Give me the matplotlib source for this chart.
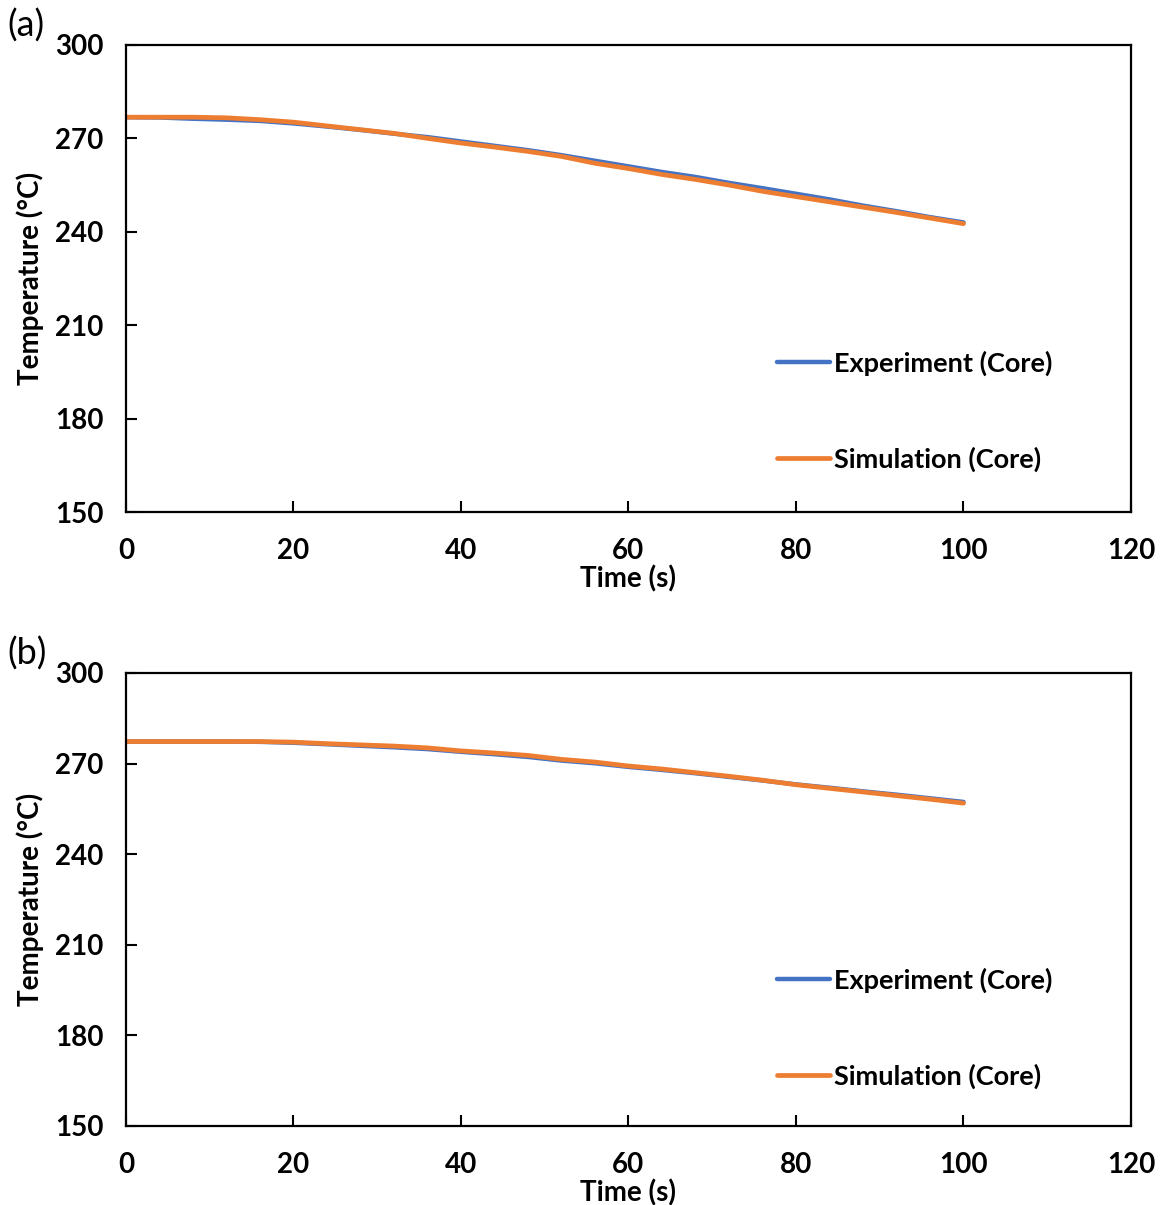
import matplotlib
matplotlib.use('Agg')
import matplotlib.pyplot as plt

plt.rcParams['font.family'] = ['Lato', 'DejaVu Sans']

# time points (s)
time_s = [0, 4, 8, 12, 16, 20, 24, 28, 32, 36, 40, 44, 48, 52, 56, 60,
          64, 68, 72, 76, 80, 84, 88, 92, 96, 100]

# panel (a)
exp_a = [276.8, 276.7, 276.3, 276.0, 275.6, 274.8, 273.8, 272.7, 271.5, 270.4,
         269.0, 267.6, 266.2, 264.6, 262.8, 261.0, 259.2, 257.6, 255.7, 254.0,
         252.2, 250.4, 248.4, 246.6, 244.7, 243.0]
sim_a = [276.8, 276.8, 276.8, 276.6, 276.0, 275.2, 274.0, 272.8, 271.6, 270.0,
         268.5, 267.2, 265.8, 264.2, 262.0, 260.3, 258.4, 256.8, 255.0, 253.0,
         251.3, 249.6, 247.9, 246.2, 244.4, 242.6]

# panel (b)
exp_b = [277.3, 277.3, 277.3, 277.3, 277.2, 276.9, 276.4, 275.9, 275.4, 274.8,
         273.9, 273.1, 272.2, 271.0, 270.1, 268.9, 267.9, 266.8, 265.6, 264.4,
         263.1, 262.0, 260.8, 259.7, 258.5, 257.3]
sim_b = [277.3, 277.3, 277.3, 277.3, 277.3, 277.1, 276.6, 276.2, 275.8, 275.2,
         274.2, 273.5, 272.7, 271.4, 270.5, 269.2, 268.2, 267.0, 265.8, 264.5,
         263.0, 261.8, 260.6, 259.4, 258.2, 256.9]

xticks = [0, 20, 40, 60, 80, 100, 120]
yticks = [150, 180, 210, 240, 270, 300]

fig = plt.figure(figsize=(11.6, 12.05), dpi=100)
ax_a = fig.add_axes([0.1086, 0.5751, 0.8664, 0.3876])
ax_b = fig.add_axes([0.1086, 0.0656, 0.8664, 0.3759])

panels = [(ax_a, exp_a, sim_a, '(a)', 0.979), (ax_b, exp_b, sim_b, '(b)', 0.458)]
for ax, exp, sim, tag, ty in panels:
    ax.plot(time_s, exp, color='#4472C4', lw=3.2, label='Experiment (Core)',
            solid_capstyle='round')
    ax.plot(time_s, sim, color='#ED7D31', lw=3.4, label='Simulation (Core)',
            solid_capstyle='round')
    ax.set_xlim(0, 120)
    ax.set_ylim(150, 300)
    ax.set_xticks(xticks)
    ax.set_yticks(yticks)
    ax.tick_params(direction='in', length=8, width=1.5, labelsize=20)
    ax.tick_params(axis='x', pad=19)
    ax.tick_params(axis='y', pad=16)
    for lab in ax.get_xticklabels() + ax.get_yticklabels():
        lab.set_fontweight('bold')
    for sp in ax.spines.values():
        sp.set_linewidth(1.6)
    ax.set_xlabel('Time (s)', fontsize=20, fontweight='bold', labelpad=1)
    ax.set_ylabel('Temperature (°C)', fontsize=20, fontweight='bold', labelpad=8)
    leg = ax.legend(loc='center left', bbox_to_anchor=(0.634, 0.216), frameon=False,
                    fontsize=19.5, handlelength=1.95, handletextpad=0.18,
                    labelspacing=2.6, borderpad=0)
    for t in leg.get_texts():
        t.set_fontweight('bold')
    fig.text(0.006, ty, tag, fontsize=26, va='center', ha='left')

fig.savefig('out.png', dpi=100)
